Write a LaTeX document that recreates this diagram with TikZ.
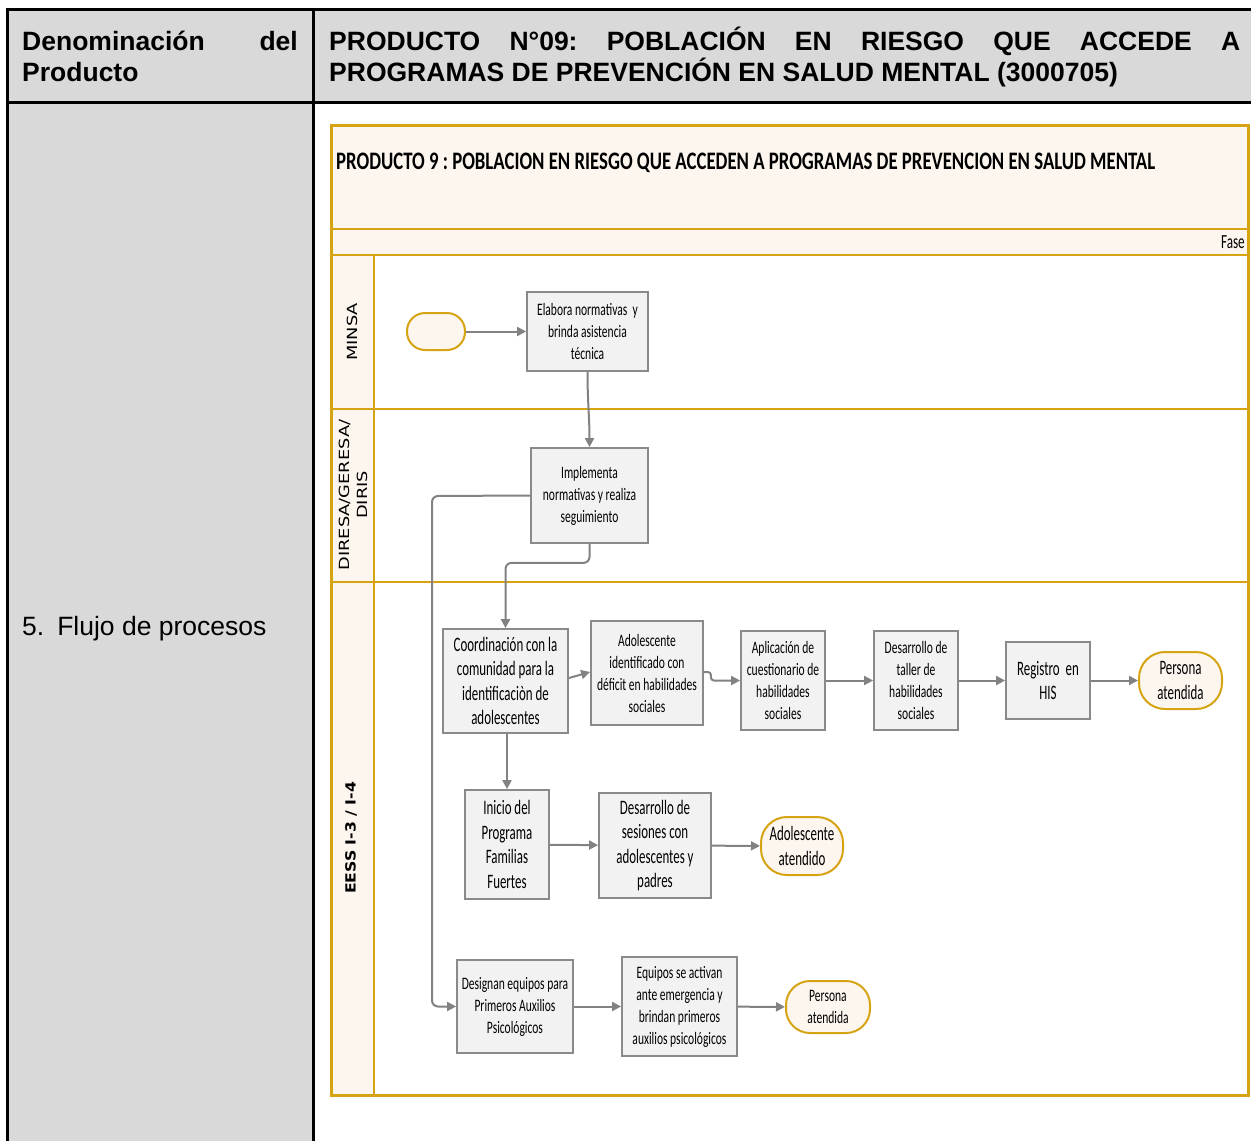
\documentclass[tikz,border=0pt]{standalone}
\usepackage{fontspec}
\setmainfont{Liberation Sans}
\newfontfamily\calS[FakeStretch=0.66]{Carlito}
\newfontfamily\calL[FakeStretch=0.63]{Carlito}
\newfontfamily\lanef{DejaVu Sans}
\usetikzlibrary{arrows.meta}
\definecolor{gold}{HTML}{D6A313}
\definecolor{cream}{HTML}{FDF6EF}
\definecolor{boxfill}{HTML}{F2F2F2}
\definecolor{boxline}{HTML}{8A8A8A}
\definecolor{arrowgray}{HTML}{828282}
\definecolor{tablegray}{HTML}{D9D9D9}
\tikzset{
  procbox/.style={draw=boxline, line width=1.8pt, fill=boxfill, inner sep=0pt, align=center},
  smalltxt/.style={font=\calS\fontsize{17.5}{22}\selectfont},
  bigtxt/.style={font=\calL\fontsize{20.5}{24.5}\selectfont},
  termbox/.style={draw=gold, line width=2pt, fill=cream, inner sep=0pt, align=center},
  conn/.style={draw=arrowgray, line width=2pt, -{Triangle[length=9pt,width=9pt]}},
  lanesep/.style={draw=gold, line width=2.5pt},
  tabline/.style={draw=black, line width=3pt},
  hdr/.style={anchor=base west, inner sep=0pt, font=\fontsize{26.5}{30}\selectfont\bfseries},
}
\begin{document}
\frenchspacing
\begin{tikzpicture}[x=1pt,y=-1pt]
\useasboundingbox (0,0) rectangle (1251,1141);
\fill[white] (0,0) rectangle (1251,1141);
% table
\fill[tablegray] (7,9) rectangle (1251,102);
\fill[tablegray] (7,102) rectangle (313,1141);
\draw[tabline] (5.5,9) -- (1251,9);
\draw[tabline] (7,102) -- (1251,102);
\draw[tabline] (7,9) -- (7,1141);
\draw[tabline] (313,9) -- (313,1141);
\node[hdr] (h1) at (22,50) {Denominación};
\node[hdr, anchor=base east] (h2) at (298,50) {del};
\node[hdr] (h3) at (22,81) {Producto};
\node[hdr] (h4) at (329,50) {\makebox[911pt][s]{PRODUCTO N°09: POBLACIÓN EN RIESGO QUE ACCEDE A}};
\node[hdr] (h5) at (329,81) {PROGRAMAS DE PREVENCIÓN EN SALUD MENTAL (3000705)};
\node[anchor=base west, inner sep=0pt, font=\fontsize{26.5}{30}\selectfont] (flujo) at (22,635) {5.\hspace{13pt}Flujo de procesos};
% swimlane frame
\fill[cream] (331,125) rectangle (1248,255);
\fill[cream] (331,255) rectangle (374,1095);
\draw[lanesep] (331,229) -- (1248,229);
\draw[lanesep] (331,255) -- (1248,255);
\draw[lanesep] (331,409) -- (1248,409);
\draw[lanesep] (331,582) -- (1248,582);
\draw[gold, line width=2pt] (374,255) -- (374,1095);
\draw[gold, line width=3pt] (331,125) rectangle (1248,1095);
\node[anchor=base west, inner sep=0pt] (title) at (336,169) {\resizebox{819pt}{16.5pt}{\calS\bfseries PRODUCTO 9 : POBLACION EN RIESGO QUE ACCEDEN A PROGRAMAS DE PREVENCION EN SALUD MENTAL}};
\node[anchor=base east, inner sep=0pt, font=\calS\fontsize{20}{22}\selectfont] (fase) at (1245,248) {Fase};
% lane labels
\node[rotate=90, inner sep=0pt] (l1) at (352,332) {\scalebox{1.27}[1]{\lanef\fontsize{14}{16}\selectfont MINSA}};
\node[rotate=90, inner sep=0pt] (l2a) at (345,495) {\scalebox{1.27}[1]{\lanef\fontsize{14}{16}\selectfont DIRESA/GERESA/}};
\node[rotate=90, inner sep=0pt] (l2b) at (362,495) {\scalebox{1.27}[1]{\lanef\fontsize{14}{16}\selectfont DIRIS}};
\node[rotate=90, inner sep=0pt] (l3) at (351,838) {\scalebox{1.12}[1]{\lanef\bfseries\fontsize{14}{16}\selectfont EESS I-3 / I-4}};
% nodes
\node[termbox, minimum width=58pt, minimum height=37pt, rounded corners=18pt] (start) at (436,331.5) {};
\node[procbox, smalltxt, minimum width=121pt, minimum height=79pt] (elab) at (587.5,331.5) {Elabora normativas\ \ y\\brinda asistencia\\técnica};
\node[procbox, smalltxt, minimum width=117pt, minimum height=95pt] (impl) at (589.5,495.5) {Implementa\\normativas y realiza\\seguimiento};
\node[procbox, bigtxt, minimum width=125pt, minimum height=104pt] (coord) at (505.5,681) {Coordinación con la\\comunidad para la\\identificaciòn de\\adolescentes};
\node[procbox, smalltxt, minimum width=112pt, minimum height=104pt] (adol) at (647,673) {Adolescente\\identificado con\\déficit en habilidades\\sociales};
\node[procbox, smalltxt, minimum width=84pt, minimum height=99pt] (apl) at (783,680.5) {Aplicación de\\cuestionario de\\habilidades\\sociales};
\node[procbox, smalltxt, minimum width=84pt, minimum height=99pt] (taller) at (916,680.5) {Desarrollo de\\taller de\\habilidades\\sociales};
\node[procbox, bigtxt, minimum width=84pt, minimum height=77pt] (reg) at (1048,680.5) {Registro\ \ en\\HIS};
\node[termbox, bigtxt, minimum width=83pt, minimum height=57pt, rounded corners=26pt] (pers1) at (1180.5,680.5) {Persona\\atendida};
\node[procbox, bigtxt, minimum width=84pt, minimum height=109pt] (inicio) at (507,844.5) {Inicio del\\Programa\\Familias\\Fuertes};
\node[procbox, bigtxt, minimum width=112pt, minimum height=105pt] (ses) at (655,845.5) {Desarrollo de\\sesiones con\\adolescentes y\\padres};
\node[termbox, bigtxt, minimum width=82pt, minimum height=58pt, rounded corners=26pt] (adat) at (802,846) {Adolescente\\atendido};
\node[procbox, smalltxt, minimum width=116pt, minimum height=93pt] (desig) at (515,1006.5) {Designan equipos para\\Primeros Auxilios\\Psicológicos};
\node[procbox, smalltxt, minimum width=115pt, minimum height=99pt] (equip) at (679.5,1006.5) {Equipos se activan\\ante emergencia y\\brindan primeros\\auxilios psicológicos};
\node[termbox, smalltxt, minimum width=84pt, minimum height=52pt, rounded corners=24pt] (pers2) at (828,1007) {Persona\\atendida};
\coordinate (bend) at (432,496);
% connectors
\draw[conn] (start) -- (elab);
\draw[conn] (elab.south) to[out=-90,in=90] (impl.north);
\draw[conn, rounded corners=6pt] (impl.south) -- ++(0,19) -| (coord.north);
\draw[conn, rounded corners=6pt] (impl.west) -- (bend) |- (desig.west);
\draw[conn] ([yshift=3pt]coord.east) -- ([yshift=1pt]adol.west);
\draw[conn, rounded corners=3pt] ([yshift=1pt]adol.east) -- ++(7,0) |- (apl.west);
\draw[conn] (apl) -- (taller);
\draw[conn] (taller) -- (reg);
\draw[conn] (reg) -- (pers1);
\draw[conn] (coord.south -| inicio.north) -- (inicio.north);
\draw[conn] (inicio) -- (ses);
\draw[conn] (ses) -- (adat);
\draw[conn] (desig) -- (equip);
\draw[conn] (equip) -- (pers2);
\end{tikzpicture}
\end{document}
